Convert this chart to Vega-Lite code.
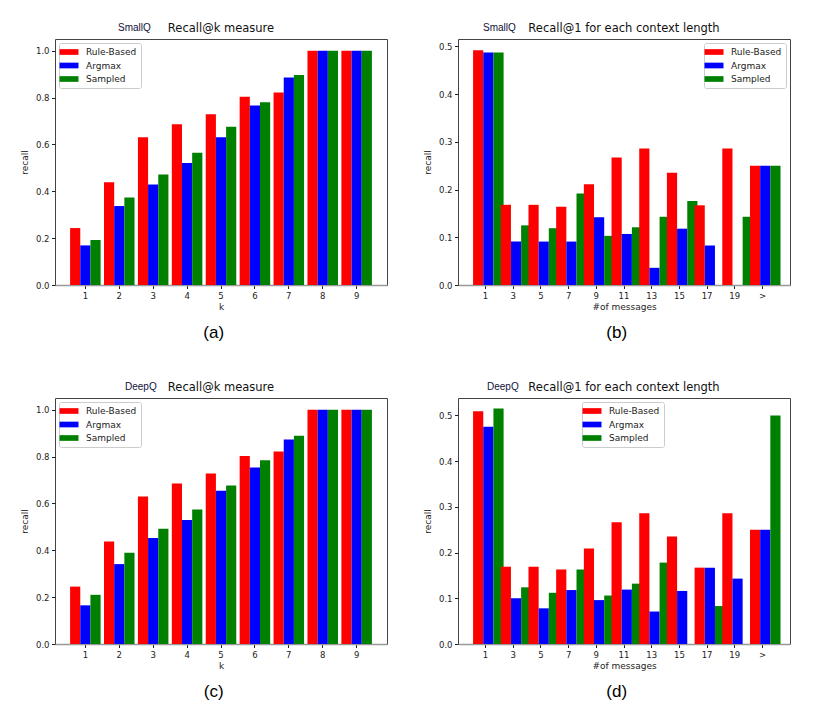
{
  "$schema": "https://vega.github.io/schema/vega-lite/v6.json",
  "padding": {"left": 19, "top": 22, "right": 0, "bottom": 0},
  "datasets": {
    "smallK": [
      {"k": "1", "model": "Rule-Based", "recall": 0.243}, {"k": "1", "model": "Argmax", "recall": 0.169}, {"k": "1", "model": "Sampled", "recall": 0.192},
      {"k": "2", "model": "Rule-Based", "recall": 0.439}, {"k": "2", "model": "Argmax", "recall": 0.337}, {"k": "2", "model": "Sampled", "recall": 0.374},
      {"k": "3", "model": "Rule-Based", "recall": 0.631}, {"k": "3", "model": "Argmax", "recall": 0.429}, {"k": "3", "model": "Sampled", "recall": 0.472},
      {"k": "4", "model": "Rule-Based", "recall": 0.686}, {"k": "4", "model": "Argmax", "recall": 0.521}, {"k": "4", "model": "Sampled", "recall": 0.565},
      {"k": "5", "model": "Rule-Based", "recall": 0.729}, {"k": "5", "model": "Argmax", "recall": 0.631}, {"k": "5", "model": "Sampled", "recall": 0.675},
      {"k": "6", "model": "Rule-Based", "recall": 0.803}, {"k": "6", "model": "Argmax", "recall": 0.766}, {"k": "6", "model": "Sampled", "recall": 0.780},
      {"k": "7", "model": "Rule-Based", "recall": 0.822}, {"k": "7", "model": "Argmax", "recall": 0.886}, {"k": "7", "model": "Sampled", "recall": 0.896},
      {"k": "8", "model": "Rule-Based", "recall": 1.0}, {"k": "8", "model": "Argmax", "recall": 1.0}, {"k": "8", "model": "Sampled", "recall": 1.0},
      {"k": "9", "model": "Rule-Based", "recall": 1.0}, {"k": "9", "model": "Argmax", "recall": 1.0}, {"k": "9", "model": "Sampled", "recall": 1.0}
    ],
    "deepK": [
      {"k": "1", "model": "Rule-Based", "recall": 0.245}, {"k": "1", "model": "Argmax", "recall": 0.165}, {"k": "1", "model": "Sampled", "recall": 0.210},
      {"k": "2", "model": "Rule-Based", "recall": 0.438}, {"k": "2", "model": "Argmax", "recall": 0.341}, {"k": "2", "model": "Sampled", "recall": 0.389},
      {"k": "3", "model": "Rule-Based", "recall": 0.630}, {"k": "3", "model": "Argmax", "recall": 0.452}, {"k": "3", "model": "Sampled", "recall": 0.492},
      {"k": "4", "model": "Rule-Based", "recall": 0.685}, {"k": "4", "model": "Argmax", "recall": 0.529}, {"k": "4", "model": "Sampled", "recall": 0.574},
      {"k": "5", "model": "Rule-Based", "recall": 0.728}, {"k": "5", "model": "Argmax", "recall": 0.654}, {"k": "5", "model": "Sampled", "recall": 0.676},
      {"k": "6", "model": "Rule-Based", "recall": 0.802}, {"k": "6", "model": "Argmax", "recall": 0.753}, {"k": "6", "model": "Sampled", "recall": 0.784},
      {"k": "7", "model": "Rule-Based", "recall": 0.822}, {"k": "7", "model": "Argmax", "recall": 0.873}, {"k": "7", "model": "Sampled", "recall": 0.889},
      {"k": "8", "model": "Rule-Based", "recall": 1.0}, {"k": "8", "model": "Argmax", "recall": 1.0}, {"k": "8", "model": "Sampled", "recall": 1.0},
      {"k": "9", "model": "Rule-Based", "recall": 1.0}, {"k": "9", "model": "Argmax", "recall": 1.0}, {"k": "9", "model": "Sampled", "recall": 1.0}
    ],
    "smallLen": [
      {"n": "1", "model": "Rule-Based", "recall": 0.492}, {"n": "1", "model": "Argmax", "recall": 0.487}, {"n": "1", "model": "Sampled", "recall": 0.487},
      {"n": "3", "model": "Rule-Based", "recall": 0.168}, {"n": "3", "model": "Argmax", "recall": 0.091}, {"n": "3", "model": "Sampled", "recall": 0.125},
      {"n": "5", "model": "Rule-Based", "recall": 0.168}, {"n": "5", "model": "Argmax", "recall": 0.091}, {"n": "5", "model": "Sampled", "recall": 0.119},
      {"n": "7", "model": "Rule-Based", "recall": 0.164}, {"n": "7", "model": "Argmax", "recall": 0.091}, {"n": "7", "model": "Sampled", "recall": 0.192},
      {"n": "9", "model": "Rule-Based", "recall": 0.211}, {"n": "9", "model": "Argmax", "recall": 0.142}, {"n": "9", "model": "Sampled", "recall": 0.103},
      {"n": "11", "model": "Rule-Based", "recall": 0.267}, {"n": "11", "model": "Argmax", "recall": 0.107}, {"n": "11", "model": "Sampled", "recall": 0.121},
      {"n": "13", "model": "Rule-Based", "recall": 0.286}, {"n": "13", "model": "Argmax", "recall": 0.036}, {"n": "13", "model": "Sampled", "recall": 0.143},
      {"n": "15", "model": "Rule-Based", "recall": 0.235}, {"n": "15", "model": "Argmax", "recall": 0.118}, {"n": "15", "model": "Sampled", "recall": 0.176},
      {"n": "17", "model": "Rule-Based", "recall": 0.167}, {"n": "17", "model": "Argmax", "recall": 0.083}, {"n": "17", "model": "Sampled", "recall": 0},
      {"n": "19", "model": "Rule-Based", "recall": 0.286}, {"n": "19", "model": "Argmax", "recall": 0}, {"n": "19", "model": "Sampled", "recall": 0.143},
      {"n": ">", "model": "Rule-Based", "recall": 0.25}, {"n": ">", "model": "Argmax", "recall": 0.25}, {"n": ">", "model": "Sampled", "recall": 0.25}
    ],
    "deepLen": [
      {"n": "1", "model": "Rule-Based", "recall": 0.509}, {"n": "1", "model": "Argmax", "recall": 0.475}, {"n": "1", "model": "Sampled", "recall": 0.515},
      {"n": "3", "model": "Rule-Based", "recall": 0.169}, {"n": "3", "model": "Argmax", "recall": 0.100}, {"n": "3", "model": "Sampled", "recall": 0.124},
      {"n": "5", "model": "Rule-Based", "recall": 0.169}, {"n": "5", "model": "Argmax", "recall": 0.078}, {"n": "5", "model": "Sampled", "recall": 0.112},
      {"n": "7", "model": "Rule-Based", "recall": 0.163}, {"n": "7", "model": "Argmax", "recall": 0.118}, {"n": "7", "model": "Sampled", "recall": 0.163},
      {"n": "9", "model": "Rule-Based", "recall": 0.209}, {"n": "9", "model": "Argmax", "recall": 0.096}, {"n": "9", "model": "Sampled", "recall": 0.106},
      {"n": "11", "model": "Rule-Based", "recall": 0.266}, {"n": "11", "model": "Argmax", "recall": 0.119}, {"n": "11", "model": "Sampled", "recall": 0.132},
      {"n": "13", "model": "Rule-Based", "recall": 0.286}, {"n": "13", "model": "Argmax", "recall": 0.071}, {"n": "13", "model": "Sampled", "recall": 0.178},
      {"n": "15", "model": "Rule-Based", "recall": 0.235}, {"n": "15", "model": "Argmax", "recall": 0.116}, {"n": "15", "model": "Sampled", "recall": 0},
      {"n": "17", "model": "Rule-Based", "recall": 0.167}, {"n": "17", "model": "Argmax", "recall": 0.167}, {"n": "17", "model": "Sampled", "recall": 0.083},
      {"n": "19", "model": "Rule-Based", "recall": 0.286}, {"n": "19", "model": "Argmax", "recall": 0.143}, {"n": "19", "model": "Sampled", "recall": 0},
      {"n": ">", "model": "Rule-Based", "recall": 0.25}, {"n": ">", "model": "Argmax", "recall": 0.25}, {"n": ">", "model": "Sampled", "recall": 0.5}
    ]
  },
  "columns": 2,
  "spacing": {"column": 34, "row": 40},
  "resolve": {"legend": {"color": "independent"}},
  "concat": [
    {
      "title": {"text": "(a)", "orient": "bottom", "anchor": "middle", "dx": 10, "offset": 13, "fontSize": 17, "font": "Liberation Sans", "color": "#000"},
      "resolve": {"legend": {"color": "independent"}},
      "vconcat": [{
        "title": {"text": "SmallQ", "anchor": "start", "dx": 98, "dy": 15, "fontSize": 10, "font": "Liberation Sans", "color": "#10103a"},
        "resolve": {"legend": {"color": "independent"}},
        "vconcat": [{
          "title": {"text": "Recall@k measure", "anchor": "middle", "frame": "group", "fontSize": 11.5, "offset": 5},
          "width": 332, "height": 246,
          "data": {"name": "smallK"},
          "mark": "bar",
          "encoding": {
            "x": {"field": "k", "type": "ordinal", "scale": {"paddingInner": 0.1, "paddingOuter": 0.445}, "axis": {"title": "k"}},
            "xOffset": {"field": "model", "type": "nominal", "sort": ["Rule-Based", "Argmax", "Sampled"], "scale": {"paddingInner": 0, "paddingOuter": 0}},
            "y": {"field": "recall", "type": "quantitative", "scale": {"domain": [0, 1.05], "nice": false}, "axis": {"title": "recall", "values": [0, 0.2, 0.4, 0.6, 0.8, 1.0]}},
            "color": {"field": "model", "type": "nominal", "sort": ["Rule-Based", "Argmax", "Sampled"], "scale": {"range": ["#ff0000", "#0000ff", "#008000"]}, "legend": {"orient": "top-left"}}
          }
        }]
      }]
    },
    {
      "title": {"text": "(b)", "orient": "bottom", "anchor": "middle", "dx": 10, "offset": 13, "fontSize": 17, "font": "Liberation Sans", "color": "#000"},
      "resolve": {"legend": {"color": "independent"}},
      "vconcat": [{
        "title": {"text": "SmallQ", "anchor": "start", "dx": 60, "dy": 15, "fontSize": 10, "font": "Liberation Sans", "color": "#10103a"},
        "resolve": {"legend": {"color": "independent"}},
        "vconcat": [{
          "title": {"text": "Recall@1 for each context length", "anchor": "middle", "frame": "group", "fontSize": 11.5, "offset": 5},
          "width": 332, "height": 246,
          "data": {"name": "smallLen"},
          "mark": "bar",
          "encoding": {
            "x": {"field": "n", "type": "ordinal", "sort": ["1", "3", "5", "7", "9", "11", "13", "15", "17", "19", ">"], "scale": {"paddingInner": 0.1, "paddingOuter": 0.545}, "axis": {"title": "#of messages"}},
            "xOffset": {"field": "model", "type": "nominal", "sort": ["Rule-Based", "Argmax", "Sampled"], "scale": {"paddingInner": 0, "paddingOuter": 0}},
            "y": {"field": "recall", "type": "quantitative", "scale": {"domain": [0, 0.5155], "nice": false}, "axis": {"title": "recall", "values": [0, 0.1, 0.2, 0.3, 0.4, 0.5]}},
            "color": {"field": "model", "type": "nominal", "sort": ["Rule-Based", "Argmax", "Sampled"], "scale": {"range": ["#ff0000", "#0000ff", "#008000"]}, "legend": {"orient": "top-right"}}
          }
        }]
      }]
    },
    {
      "title": {"text": "(c)", "orient": "bottom", "anchor": "middle", "dx": 10, "offset": 13, "fontSize": 17, "font": "Liberation Sans", "color": "#000"},
      "resolve": {"legend": {"color": "independent"}},
      "vconcat": [{
        "title": {"text": "DeepQ", "anchor": "start", "dx": 105, "dy": 15, "fontSize": 10, "font": "Liberation Sans", "color": "#10103a"},
        "resolve": {"legend": {"color": "independent"}},
        "vconcat": [{
          "title": {"text": "Recall@k measure", "anchor": "middle", "frame": "group", "fontSize": 11.5, "offset": 5},
          "width": 332, "height": 246,
          "data": {"name": "deepK"},
          "mark": "bar",
          "encoding": {
            "x": {"field": "k", "type": "ordinal", "scale": {"paddingInner": 0.1, "paddingOuter": 0.445}, "axis": {"title": "k"}},
            "xOffset": {"field": "model", "type": "nominal", "sort": ["Rule-Based", "Argmax", "Sampled"], "scale": {"paddingInner": 0, "paddingOuter": 0}},
            "y": {"field": "recall", "type": "quantitative", "scale": {"domain": [0, 1.05], "nice": false}, "axis": {"title": "recall", "values": [0, 0.2, 0.4, 0.6, 0.8, 1.0]}},
            "color": {"field": "model", "type": "nominal", "sort": ["Rule-Based", "Argmax", "Sampled"], "scale": {"range": ["#ff0000", "#0000ff", "#008000"]}, "legend": {"orient": "top-left"}}
          }
        }]
      }]
    },
    {
      "title": {"text": "(d)", "orient": "bottom", "anchor": "middle", "dx": 10, "offset": 13, "fontSize": 17, "font": "Liberation Sans", "color": "#000"},
      "resolve": {"legend": {"color": "independent"}},
      "vconcat": [{
        "title": {"text": "DeepQ", "anchor": "start", "dx": 64, "dy": 15, "fontSize": 10, "font": "Liberation Sans", "color": "#10103a"},
        "resolve": {"legend": {"color": "independent"}},
        "vconcat": [{
          "title": {"text": "Recall@1 for each context length", "anchor": "middle", "frame": "group", "fontSize": 11.5, "offset": 5},
          "width": 332, "height": 246,
          "data": {"name": "deepLen"},
          "mark": "bar",
          "encoding": {
            "x": {"field": "n", "type": "ordinal", "sort": ["1", "3", "5", "7", "9", "11", "13", "15", "17", "19", ">"], "scale": {"paddingInner": 0.1, "paddingOuter": 0.545}, "axis": {"title": "#of messages"}},
            "xOffset": {"field": "model", "type": "nominal", "sort": ["Rule-Based", "Argmax", "Sampled"], "scale": {"paddingInner": 0, "paddingOuter": 0}},
            "y": {"field": "recall", "type": "quantitative", "scale": {"domain": [0, 0.538], "nice": false}, "axis": {"title": "recall", "values": [0, 0.1, 0.2, 0.3, 0.4, 0.5]}},
            "color": {"field": "model", "type": "nominal", "sort": ["Rule-Based", "Argmax", "Sampled"], "scale": {"range": ["#ff0000", "#0000ff", "#008000"]}, "legend": {"orient": "none", "legendX": 124, "legendY": 4}}
          }
        }]
      }]
    }
  ],
  "config": {
    "font": "DejaVu Sans",
    "view": {"stroke": "#444", "strokeWidth": 1},
    "title": {"font": "DejaVu Sans", "fontWeight": "normal", "color": "#111"},
    "axis": {
      "labelFont": "DejaVu Sans", "labelFontSize": 8.5, "labelColor": "#222",
      "titleFont": "DejaVu Sans", "titleFontSize": 9, "titleFontWeight": "normal", "titleColor": "#222",
      "tickColor": "#222", "tickSize": 3.5, "grid": false
    },
    "axisX": {"labelAngle": 0, "domainColor": "#999", "domainWidth": 1.5, "labelPadding": 3, "titlePadding": 2},
    "axisY": {"domain": false, "format": ".1f", "labelPadding": 2.5, "titlePadding": 6},
    "legend": {
      "title": null, "offset": 4, "padding": 4, "cornerRadius": 2,
      "fillColor": "rgba(255,255,255,0.85)", "strokeColor": "#cccccc",
      "symbolType": "M-2,-0.6H2V0.6H-2Z", "symbolSize": 90, "symbolStrokeWidth": 0, "symbolOpacity": 1, "symbolOffset": 1,
      "labelFont": "DejaVu Sans", "labelFontSize": 9, "labelColor": "#222", "labelOffset": 12, "rowPadding": 3.5
    }
  }
}
